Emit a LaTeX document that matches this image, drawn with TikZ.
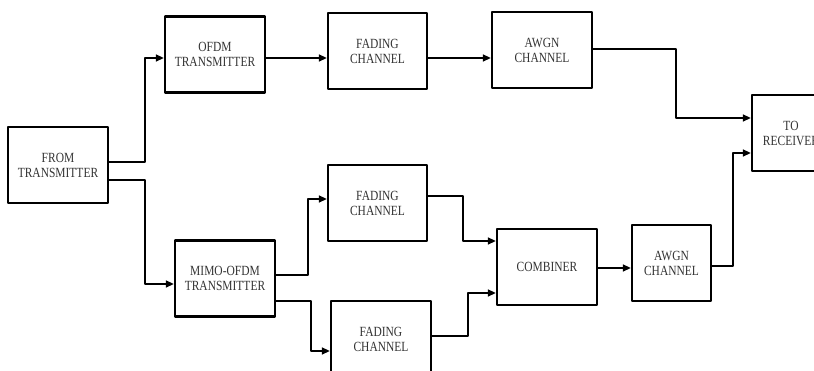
\documentclass[tikz,border=0pt]{standalone}
\usepackage{fontspec}
\setmainfont{Liberation Serif}[FakeStretch=0.82]
\usetikzlibrary{arrows.meta}
\begin{document}
\begin{tikzpicture}[x=1pt,y=1pt,line width=1.5pt,line join=round,>={Triangle[length=8pt,width=7pt]},
	blk/.style={draw,line width=2.3pt,inner sep=0pt,align=center,minimum height=76pt,
		font=\fontsize{14}{15}\selectfont,text=black!80}]
				\useasboundingbox (0,0) rectangle (814,371);
				\clip (0,0) rectangle (814,371);
				\node[blk,minimum width=100pt] (from) at (58,206) {FROM\\TRANSMITTER};
				\node[blk,minimum width=100pt] (ofdm) at (215,316.5) {OFDM\\TRANSMITTER};
				\node[blk,minimum width=99pt] (fad1) at (377.5,320) {FADING\\CHANNEL};
				\node[blk,minimum width=100pt] (awgn1) at (542,321) {AWGN\\CHANNEL};
				\node[blk,minimum width=78pt] (recv) at (791,238) {TO\\RECEIVER};
				\node[blk,minimum width=100pt] (mimo) at (225,92.5) {MIMO-OFDM\\TRANSMITTER};
				\node[blk,minimum width=99pt] (fad2) at (377.5,168) {FADING\\CHANNEL};
				\node[blk,minimum width=100pt] (fad3) at (381,32) {FADING\\CHANNEL};
				\node[blk,minimum width=100pt] (comb) at (547,104) {COMBINER};
				\node[blk,minimum width=79pt] (awgn2) at (671.5,108) {AWGN\\CHANNEL};
				%upper branch
				\draw[->] ([yshift=3pt]from.east) -- ++(36,0) |- ([yshift=-3.5pt]ofdm.west);
				\draw[->] ([yshift=-3.5pt]ofdm.east) -- ([yshift=-3.5pt]ofdm.east -| fad1.west);
				\draw[->] ([yshift=-7pt]fad1.east) -- ([yshift=-7pt]fad1.east -| awgn1.west);
				\draw[->] ([yshift=1pt]awgn1.east) -- ++(83,0) |- ([yshift=15pt]recv.west);
				%lower branch
				\draw[->] ([yshift=-15pt]from.east) -- ++(36,0) |- ([yshift=-5.5pt]mimo.west);
				\draw[->] ([yshift=3.5pt]mimo.east) -- ++(32,0) |- ([yshift=4pt]fad2.west);
				\draw[->] ([yshift=-22.5pt]mimo.east) -- ++(35,0) |- ([yshift=-12pt]fad3.west);
				\draw[->] ([yshift=7pt]fad2.east) -- ++(35,0) |- ([yshift=26pt]comb.west);
				\draw[->] ([yshift=3pt]fad3.east) -- ++(36,0) |- ([yshift=-26pt]comb.west);
				\draw[->] ([yshift=-1pt]comb.east) -- ([yshift=-1pt]comb.east -| awgn2.west);
				\draw[->] ([yshift=-3pt]awgn2.east) -- ++(21,0) |- ([yshift=-20pt]recv.west);
		\end{tikzpicture}
\end{document}
